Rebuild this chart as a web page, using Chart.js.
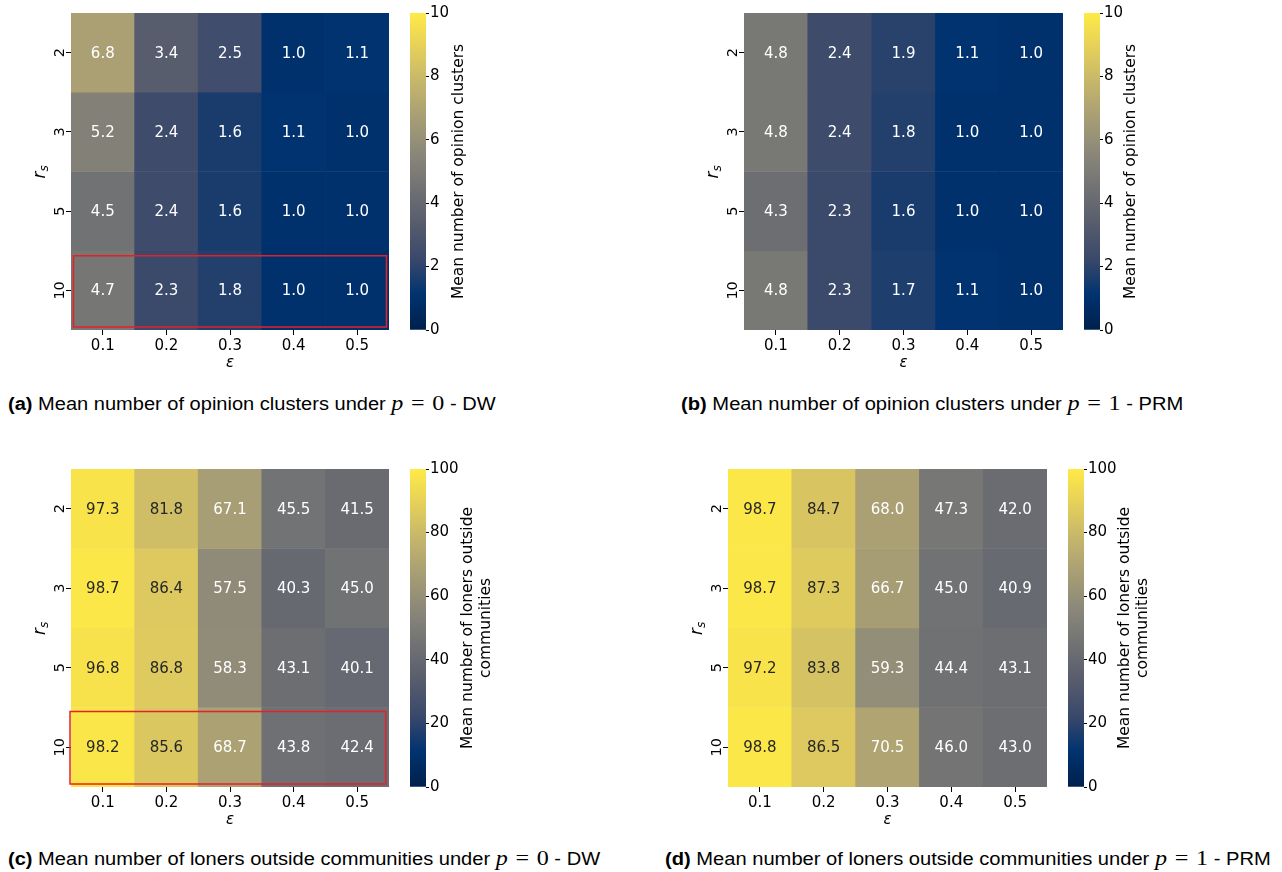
<!DOCTYPE html>
<html>
<head>
<meta charset="utf-8">
<script src="https://cdn.jsdelivr.net/npm/chart.js@4.4.1/dist/chart.umd.min.js"></script>
<style>
  body { margin: 0; background: #fff; width: 1282px; height: 872px; position: relative; overflow: hidden; }
  canvas { position: absolute; }
  .cap { position: absolute; white-space: nowrap; font-family: 'Liberation Sans', Arial, sans-serif; font-size: 17.5px; line-height: 20px; color: #000; transform-origin: 0 50%; }
  .m { font-family: 'Liberation Serif', serif; font-size: 21px; }
  .m .s { display: inline-block; width: 0.32em; }
</style>
</head>
<body>
<div class="cap" id="capA" style="left:8px;top:393px"><b>(a)</b> Mean number of opinion clusters under <span class="m"><i>p</i><span class="s"></span>=<span class="s"></span>0</span> - DW</div>
<div class="cap" id="capB" style="left:681px;top:393px"><b>(b)</b> Mean number of opinion clusters under <span class="m"><i>p</i><span class="s"></span>=<span class="s"></span>1</span> - PRM</div>
<div class="cap" id="capC" style="left:8px;top:848px"><b>(c)</b> Mean number of loners outside communities under <span class="m"><i>p</i><span class="s"></span>=<span class="s"></span>0</span> - DW</div>
<div class="cap" id="capD" style="left:665px;top:848px"><b>(d)</b> Mean number of loners outside communities under <span class="m"><i>p</i><span class="s"></span>=<span class="s"></span>1</span> - PRM</div>
<script>
// axis categories
const epsLabels = ["0.1", "0.2", "0.3", "0.4", "0.5"];
const rsLabels = ["2", "3", "5", "10"];

// rows follow rsLabels, columns follow epsLabels
const clustersDW = [
  [6.8, 3.4, 2.5, 1.0, 1.1],
  [5.2, 2.4, 1.6, 1.1, 1.0],
  [4.5, 2.4, 1.6, 1.0, 1.0],
  [4.7, 2.3, 1.8, 1.0, 1.0],
];
const clustersPRM = [
  [4.8, 2.4, 1.9, 1.1, 1.0],
  [4.8, 2.4, 1.8, 1.0, 1.0],
  [4.3, 2.3, 1.6, 1.0, 1.0],
  [4.8, 2.3, 1.7, 1.1, 1.0],
];
const lonersDW = [
  [97.3, 81.8, 67.1, 45.5, 41.5],
  [98.7, 86.4, 57.5, 40.3, 45.0],
  [96.8, 86.8, 58.3, 43.1, 40.1],
  [98.2, 85.6, 68.7, 43.8, 42.4],
];
const lonersPRM = [
  [98.7, 84.7, 68.0, 47.3, 42.0],
  [98.7, 87.3, 66.7, 45.0, 40.9],
  [97.2, 83.8, 59.3, 44.4, 43.1],
  [98.8, 86.5, 70.5, 46.0, 43.0],
];

// colorbar ticks
const clusterTicks = [0, 2, 4, 6, 8, 10];
const lonerTicks = [0, 20, 40, 60, 80, 100];

// cividis stops
const cividisStops = ["#00204D", "#00336F", "#39486B", "#575C6D", "#707173",
  "#8A8779", "#A69D75", "#C4B56C", "#E4CF5B", "#FFEA46"];

function hexRgb(h) {
  return [1, 3, 5].map(i => parseInt(h.slice(i, i + 2), 16));
}
function cividisRgb(t) {
  t = Math.max(0, Math.min(1, t));
  const n = cividisStops.length - 1;
  const i = Math.min(n - 1, Math.floor(t * n));
  const f = t * n - i;
  const a = hexRgb(cividisStops[i]), b = hexRgb(cividisStops[i + 1]);
  return a.map((v, k) => Math.round(v + (b[k] - v) * f));
}
function rgbStr(c) { return `rgb(${c[0]},${c[1]},${c[2]})`; }

// same rule seaborn uses for annotation colour
function textColor(c) {
  const lin = c.map(v => { v /= 255; return v <= 0.03928 ? v / 12.92 : Math.pow((v + 0.055) / 1.055, 2.4); });
  const lum = 0.2126 * lin[0] + 0.7152 * lin[1] + 0.0722 * lin[2];
  return lum > 0.408 ? "#262626" : "#ffffff";
}

const FONT = "'DejaVu Sans', sans-serif";
const FS = 15;

const panels = [
  { values: clustersDW, vmax: 10, ticks: clusterTicks, label: ["Mean number of opinion clusters"],
    hx: 71, hw: 318, hy: 13, hh: 317, cbx: 410, cbw: 16, labelDx: 33, box: { l: 2.5, r: 2.5, t: 5, b: 3 } },
  { values: clustersPRM, vmax: 10, ticks: clusterTicks, label: ["Mean number of opinion clusters"],
    hx: 744, hw: 319, hy: 13, hh: 317, cbx: 1084, cbw: 16, labelDx: 31, box: null },
  { values: lonersDW, vmax: 100, ticks: lonerTicks, label: ["Mean number of loners outside", "communities"],
    hx: 71, hw: 318, hy: 469, hh: 318, cbx: 410, cbw: 16, labelDx: 42, box: { l: -1, r: 3.3, t: 4, b: 3 } },
  { values: lonersPRM, vmax: 100, ticks: lonerTicks, label: ["Mean number of loners outside", "communities"],
    hx: 728, hw: 319, hy: 469, hh: 318, cbx: 1068, cbw: 16, labelDx: 41, box: null },
];

function addCanvas(left, top, w, h) {
  const cv = document.createElement("canvas");
  cv.width = w; cv.height = h;
  cv.style.left = left + "px"; cv.style.top = top + "px";
  cv.style.width = w + "px"; cv.style.height = h + "px";
  document.body.appendChild(cv);
  return cv;
}

// numbers in cells, rotated row labels, r_s label, red highlight box
const cellPlugin = {
  id: "cells",
  afterDraw(chart, args, opts) {
    const { ctx, chartArea, scales: { x, y } } = chart;
    ctx.save();
    ctx.textAlign = "center";
    ctx.textBaseline = "middle";
    ctx.font = `${FS}px ${FONT}`;
    opts.values.forEach((row, r) => row.forEach((v, c) => {
      ctx.fillStyle = textColor(cividisRgb(v / opts.vmax));
      ctx.fillText(v.toFixed(1), x.getPixelForValue(c), y.getPixelForValue(r + 0.5) + 1);
    }));
    ctx.fillStyle = "#000";
    ctx.font = `14.5px ${FONT}`;
    rsLabels.forEach((lab, r) => {
      ctx.save();
      ctx.translate(chartArea.left - 12, y.getPixelForValue(r + 0.5));
      ctx.rotate(-Math.PI / 2);
      ctx.fillText(lab, 0, 1);
      ctx.restore();
    });
    // axis name r_s, rotated like the tick labels
    ctx.save();
    ctx.translate(chartArea.left - 26, (chartArea.top + chartArea.bottom) / 2);
    ctx.rotate(-Math.PI / 2);
    ctx.textAlign = "left";
    ctx.textBaseline = "alphabetic";
    ctx.font = `italic 17px ${FONT}`;
    const rw = ctx.measureText("r").width;
    ctx.fillText("r", -7, 0);
    ctx.font = `italic 12px ${FONT}`;
    ctx.fillText("s", -7 + rw, 3);
    ctx.restore();
    if (opts.box) {
      const b = opts.box;
      const top = y.getPixelForValue(rsLabels.length - 1);
      const bottom = y.getPixelForValue(rsLabels.length);
      ctx.strokeStyle = "rgb(228,32,40)";
      ctx.lineWidth = 1.5;
      ctx.strokeRect(chartArea.left + b.l, top + b.t, chartArea.right - b.r - chartArea.left - b.l, bottom - b.b - top - b.t);
    }
    ctx.restore();
  },
};

const cbarPlugin = {
  id: "cbar",
  afterDraw(chart, args, opts) {
    const { ctx, chartArea } = chart;
    const cy = (chartArea.top + chartArea.bottom) / 2;
    ctx.save();
    ctx.font = `15.5px ${FONT}`;
    ctx.fillStyle = "#000";
    ctx.textAlign = "center";
    ctx.textBaseline = "middle";
    opts.lines.forEach((line, i) => {
      ctx.save();
      ctx.translate(chartArea.right + opts.dx + i * 17.5, cy);
      ctx.rotate(-Math.PI / 2);
      ctx.fillText(line, 0, 0);
      ctx.restore();
    });
    ctx.restore();
  },
};

function heatmap(p) {
  const cv = addCanvas(p.hx - 58, p.hy - 13, 58 + p.hw + 4, 13 + p.hh + 45);
  const datasets = rsLabels.map((rs, r) => ({
    label: rs,
    data: p.values[r].map(() => [r, r + 1]),
    backgroundColor: p.values[r].map(v => rgbStr(cividisRgb(v / p.vmax))),
    borderWidth: 0,
    barPercentage: 1,
    categoryPercentage: 1,
    grouped: false,
  }));
  new Chart(cv, {
    type: "bar",
    data: { labels: epsLabels, datasets },
    options: {
      responsive: false,
      animation: false,
      events: [],
      layout: { padding: { top: 13, right: 4, left: 0, bottom: 0 } },
      plugins: {
        legend: { display: false },
        tooltip: { enabled: false },
        cells: { values: p.values, vmax: p.vmax, box: p.box },
      },
      scales: {
        x: {
          grid: { offset: false, drawOnChartArea: false, tickLength: 5, color: "#000", lineWidth: 1 },
          border: { display: false },
          ticks: { font: { family: FONT, size: FS }, color: "#000", padding: 2 },
          title: { display: true, text: "ε", color: "#000", font: { family: FONT, size: 15, style: "italic" }, padding: { top: 0, bottom: 3 } },
          afterFit: s => { s.height = 45; },
        },
        y: {
          min: 0,
          max: rsLabels.length,
          reverse: true,
          afterBuildTicks: s => { s.ticks = rsLabels.map((_, i) => ({ value: i + 0.5 })); },
          grid: { drawOnChartArea: false, tickLength: 5, color: "#000", lineWidth: 1 },
          border: { display: false },
          ticks: { display: false },
          afterFit: s => { s.width = 58; },
        },
      },
    },
    plugins: [cellPlugin],
  });
}

function colorbar(p) {
  const W = 100;
  const cv = addCanvas(p.cbx, p.hy - 13, W, 13 + p.hh + 12);
  new Chart(cv, {
    type: "bar",
    data: {
      labels: [""],
      datasets: [{
        data: [[0, p.vmax]],
        backgroundColor: ctx => {
          const area = ctx.chart.chartArea;
          if (!area) return cividisStops[0];
          const g = ctx.chart.ctx.createLinearGradient(0, area.bottom, 0, area.top);
          cividisStops.forEach((c, i) => g.addColorStop(i / (cividisStops.length - 1), c));
          return g;
        },
        borderWidth: 0,
        barPercentage: 1,
        categoryPercentage: 1,
      }],
    },
    options: {
      responsive: false,
      animation: false,
      events: [],
      layout: { padding: { top: 13, bottom: 12, left: 0, right: 0 } },
      plugins: {
        legend: { display: false },
        tooltip: { enabled: false },
        cbar: { lines: p.label, dx: p.labelDx },
      },
      scales: {
        x: { display: false },
        y: {
          position: "right",
          min: 0,
          max: p.vmax,
          afterBuildTicks: s => { s.ticks = p.ticks.map(v => ({ value: v })); },
          ticks: { font: { family: FONT, size: FS }, color: "#000", padding: 1 },
          grid: { drawOnChartArea: false, tickLength: 3, color: "#000", lineWidth: 1 },
          border: { display: false },
          afterFit: s => { s.width = W - p.cbw; },
        },
      },
    },
    plugins: [cbarPlugin],
  });
}

panels.forEach(p => { heatmap(p); colorbar(p); });

// squeeze captions to the width they take in the figure
const capWidths = { capA: 488, capB: 502, capC: 592, capD: 606 };
Object.entries(capWidths).forEach(([id, w]) => {
  const el = document.getElementById(id);
  el.style.transform = `scaleX(${w / el.offsetWidth})`;
});
</script>
</body>
</html>
